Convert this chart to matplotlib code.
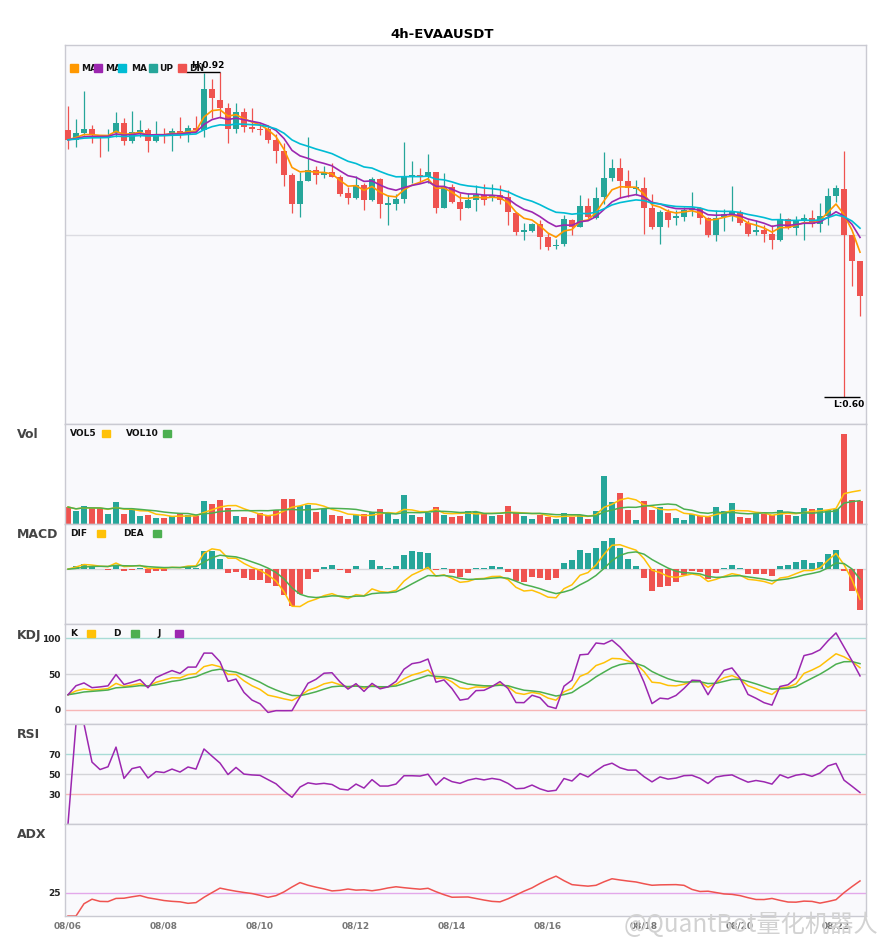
import numpy as np
import pandas as pd
import matplotlib as mpl
mpl.use('Agg')
from matplotlib import pyplot as plt
from matplotlib.patches import Rectangle

W, H = 885, 950

title = '4h-EVAAUSDT'
tick_pos = [0, 12, 24, 36, 48, 60, 72, 84, 96]
tick_labels = ['08/06', '08/08', '08/10', '08/12', '08/14', '08/16', '08/18', '08/20', '08/22']

# 4h candles
open_ = [.866, .856, .863, .867, .860, .859, .863, .873, .855, .864,
         .866, .855, .862, .862, .865, .862, .868, .866, .907, .896,
         .888, .867, .884, .869, .867, .867, .856, .845, .821, .792,
         .815, .826, .821, .824, .819, .803, .798, .811, .796, .817,
         .791, .792, .797, .819, .820, .819, .824, .788, .809, .794,
         .788, .796, .801, .799, .801, .799, .783, .764, .765, .772,
         .758, .749, .751, .776, .769, .790, .778, .799, .818, .828,
         .815, .807, .808, .788, .769, .784, .778, .779, .786, .788,
         .778, .761, .779, .781, .784, .773, .764, .766, .762, .755,
         .777, .768, .775, .778, .772, .780, .800, .807, .760, .734]
high = [.890, .877, .905, .871, .861, .867, .884, .878, .885, .876,
        .868, .875, .868, .868, .879, .871, .880, .923, .917, .924,
        .893, .893, .888, .888, .873, .871, .862, .853, .823, .824,
        .859, .830, .830, .833, .821, .809, .820, .813, .819, .818,
        .801, .802, .854, .835, .828, .842, .824, .823, .812, .803,
        .803, .811, .812, .812, .811, .806, .784, .773, .773, .776,
        .763, .756, .781, .777, .801, .798, .809, .844, .837, .838,
        .826, .816, .819, .802, .786, .787, .786, .789, .804, .789,
        .779, .786, .787, .810, .786, .776, .776, .771, .771, .783,
        .778, .780, .782, .786, .793, .808, .811, .845, .760, .734]
low = [.847, .849, .861, .853, .839, .845, .859, .851, .853, .859,
       .844, .854, .853, .845, .858, .854, .864, .859, .878, .878,
       .853, .863, .864, .864, .861, .853, .833, .810, .783, .779,
       .815, .812, .818, .819, .800, .792, .797, .786, .795, .778,
       .771, .786, .793, .813, .813, .813, .783, .788, .793, .776,
       .788, .785, .791, .795, .792, .771, .761, .755, .764, .746,
       .745, .746, .749, .761, .769, .778, .777, .792, .815, .798,
       .799, .801, .762, .767, .751, .769, .771, .775, .780, .772,
       .758, .754, .765, .775, .771, .759, .761, .753, .746, .754,
       .767, .761, .755, .769, .764, .771, .794, .598, .709, .679]
close = [.856, .863, .867, .861, .859, .860, .873, .855, .864, .866,
         .855, .862, .861, .865, .862, .868, .866, .907, .898, .888,
         .867, .884, .869, .867, .866, .856, .845, .821, .792, .815,
         .826, .821, .823, .819, .802, .798, .811, .796, .817, .792,
         .792, .797, .820, .820, .819, .824, .788, .809, .794, .787,
         .796, .801, .796, .800, .796, .784, .764, .765, .772, .758,
         .748, .750, .777, .769, .790, .779, .798, .818, .828, .815,
         .808, .808, .788, .769, .784, .776, .779, .786, .787, .778,
         .761, .778, .782, .784, .773, .762, .766, .762, .755, .777,
         .768, .775, .778, .772, .780, .800, .808, .760, .734, .699]
volume = [17.0, 13.3, 18.3, 15.7, 15.7, 10.3, 22.3, 10.3, 15.0, 8.3,
          9.3, 6.3, 6.3, 7.7, 10.0, 9.3, 7.7, 23.3, 20.3, 24.3,
          16.0, 8.3, 7.3, 6.3, 11.0, 8.3, 14.3, 25.3, 25.3, 17.7,
          19.3, 11.7, 15.0, 9.3, 8.3, 5.3, 8.7, 10.3, 11.7, 15.3,
          11.0, 5.3, 29.3, 9.3, 6.7, 11.0, 17.3, 9.3, 7.3, 8.3,
          13.3, 12.3, 11.0, 8.3, 9.3, 18.3, 11.0, 8.3, 5.3, 9.3,
          7.3, 5.3, 11.0, 7.3, 9.3, 5.3, 13.3, 48.3, 22.3, 31.3,
          14.3, 4.3, 23.3, 14.3, 17.3, 11.3, 6.3, 4.3, 10.3, 8.3,
          7.3, 17.3, 13.3, 21.3, 7.3, 6.3, 10.3, 10.3, 9.3, 14.3,
          9.3, 8.3, 16.3, 15.3, 16.3, 14.3, 15.3, 90.3, 24.3, 23.3]

UP = '#26a69a'
DN = '#ef5350'
C_MA5, C_MA10, C_MA20 = '#ff9800', '#9c27b0', '#00bcd4'
YEL, GRN, PUR = '#ffc107', '#4caf50', '#9c27b0'
BG = '#f9f9fc'
EDGE = '#cacad2'

o = np.array(open_); h = np.array(high); l = np.array(low); c = np.array(close)
v = np.array(volume)
x = np.arange(len(c))
cols = np.where(c >= o, UP, DN)

cs = pd.Series(c)
ma5 = cs.ewm(span=5, adjust=False).mean()
ma10 = cs.ewm(span=10, adjust=False).mean()
ma20 = cs.ewm(span=20, adjust=False).mean()

vs = pd.Series(v)
vol5 = vs.rolling(5, min_periods=1).mean()
vol10 = vs.rolling(10, min_periods=1).mean()

# macd (6, 13, 5)
dif = cs.ewm(span=6, adjust=False).mean() - cs.ewm(span=13, adjust=False).mean()
dea = dif.ewm(span=5, adjust=False).mean()
hist = 2 * (dif - dea)

# kdj
ln = pd.Series(l).rolling(9, min_periods=1).min()
hn = pd.Series(h).rolling(9, min_periods=1).max()
rsv = (cs - ln) / (hn - ln) * 100
k = rsv.ewm(com=2, adjust=False).mean()
d = k.ewm(com=2, adjust=False).mean()
j = 3 * k - 2 * d

# rsi
diff = cs.diff()
g = diff.clip(lower=0).ewm(com=13).mean()
ls = (-diff.clip(upper=0)).ewm(com=13).mean()
rsi = (100 * g / (g + ls)).fillna(0)

# adx
hs, lw_ = pd.Series(h), pd.Series(l)
pc = cs.shift(1)
tr = pd.concat([hs - lw_, (hs - pc).abs(), (lw_ - pc).abs()], axis=1).max(axis=1)
upm = hs.diff()
dnm = -lw_.diff()
pdm = pd.Series(np.where((upm > dnm) & (upm > 0), upm, 0.0))
mdm = pd.Series(np.where((dnm > upm) & (dnm > 0), dnm, 0.0))
atr = tr.ewm(span=14, adjust=False).mean()
pdi = 100 * pdm.ewm(span=14, adjust=False).mean() / atr
mdi = 100 * mdm.ewm(span=14, adjust=False).mean() / atr
dx = (100 * (pdi - mdi).abs() / (pdi + mdi)).fillna(0)
adx = dx.ewm(span=14, adjust=False).mean()

fig = plt.figure(figsize=(W / 100, H / 100), dpi=100)
fig.patch.set_facecolor('white')


def add_panel(top, bottom):
    ax = fig.add_axes([65 / W, 1 - bottom / H, 801 / W, (bottom - top) / H])
    ax.set_facecolor(BG)
    for s in ax.spines.values():
        s.set_color(EDGE)
        s.set_linewidth(1)
    ax.set_xlim(-0.375, 99.75)
    ax.set_xticks([])
    ax.set_yticks([])
    return ax


ax_p = add_panel(45, 424)
ax_v = add_panel(424, 524)
ax_m = add_panel(524, 624)
ax_k = add_panel(624, 724)
ax_r = add_panel(724, 824)
ax_a = add_panel(824, 916)

# price
ax_p.vlines(x, l, h, colors=cols, lw=0.9, zorder=2)
ax_p.bar(x, np.maximum(np.abs(c - o), 0.0012), bottom=np.minimum(o, c), width=0.75, color=cols, zorder=3)
ax_p.plot(x, ma5, color=C_MA5, lw=1.2, zorder=4)
ax_p.plot(x, ma10, color=C_MA10, lw=1.2, zorder=4)
ax_p.plot(x, ma20, color=C_MA20, lw=1.2, zorder=4)
rng = h.max() - l.min()
ax_p.set_ylim(l.min() - 0.083 * rng, h.max() + 0.083 * rng)
ax_p.axhline(sum(ax_p.get_ylim()) / 2, color='#dcdce2', lw=1, zorder=1)

ih = int(np.argmax(h))
il = int(np.argmin(l))
ax_p.hlines(h[ih], ih - 4.25, ih, color='black', lw=1, zorder=5)
ax_p.text(ih - 1.5, h[ih] + 0.002, 'H:%.2f' % h[ih], ha='center', va='bottom',
          fontsize=6.5, fontweight='bold', zorder=6)
ax_p.hlines(l[il], il - 2.5, il + 2, color='black', lw=1, zorder=5)
ax_p.text(il + 0.6, l[il] - 0.003, 'L:%.2f' % l[il], ha='center', va='top',
          fontsize=6.5, fontweight='bold', zorder=6)

# volume
ax_v.bar(x, v, width=0.75, color=cols)
ax_v.plot(x, vol5, color=YEL, lw=1.1)
ax_v.plot(x, vol10, color=GRN, lw=1.1)
ax_v.set_ylim(0, v.max() * 1.107)

# macd
ax_m.bar(x, hist, width=0.75, color=np.where(hist >= 0, UP, DN))
ax_m.plot(x, dif, color=YEL, lw=1.1)
ax_m.plot(x, dea, color=GRN, lw=1.1)
lo = min(hist.min(), dif.min(), dea.min())
hi = max(hist.max(), dif.max(), dea.max())
ax_m.set_ylim(lo - 0.2 * (hi - lo), hi + 0.2 * (hi - lo))
ax_m.axhline(0, color='#d8d8dc', lw=1, zorder=0)

# kdj
ax_k.axhline(100, color='#a8dcd6', lw=1, zorder=0)
ax_k.axhline(50, color='#d4d4d8', lw=1, zorder=0)
ax_k.axhline(0, color='#f7b6b6', lw=1, zorder=0)
ax_k.plot(x, k, color=YEL, lw=1.1)
ax_k.plot(x, d, color=GRN, lw=1.1)
ax_k.plot(x, j, color=PUR, lw=1.1)
ax_k.set_ylim(-20, 120)
ax_k.set_yticks([0, 50, 100])

# rsi
ax_r.axhline(70, color='#a8dcd6', lw=1, zorder=0)
ax_r.axhline(50, color='#d4d4d8', lw=1, zorder=0)
ax_r.axhline(30, color='#f7b6b6', lw=1, zorder=0)
ax_r.plot(x, rsi, color=PUR, lw=1.1)
ax_r.set_ylim(0, 100)
ax_r.set_yticks([30, 50, 70])

# adx
ax_a.axhline(25, color='#e3a8ea', lw=1, zorder=0)
ax_a.plot(x, adx, color=DN, lw=1.1)
ax_a.set_ylim(0, 100)
ax_a.set_yticks([25])

for ax in (ax_k, ax_r, ax_a):
    ax.tick_params(axis='y', length=0, pad=3, labelsize=6.5, labelcolor='#222222')
    for t in ax.get_yticklabels():
        t.set_fontweight('bold')

ax_a.set_xticks(tick_pos)
ax_a.set_xticklabels(tick_labels)
ax_a.tick_params(axis='x', length=0, pad=4, labelsize=6.5, labelcolor='#777777')
for t in ax_a.get_xticklabels():
    t.set_fontweight('bold')

fig.text(0.5, 1 - 34 / H, title, ha='center', va='center', fontsize=9.5, fontweight='bold')

for name, yy in [('Vol', 435), ('MACD', 535), ('KDJ', 635), ('RSI', 735), ('ADX', 835)]:
    fig.text(17 / W, 1 - yy / H, name, ha='left', va='center', fontsize=9,
             fontweight='bold', color='#444444')


def legend_item(x_sq, x_txt, y, color, label):
    fig.patches.append(Rectangle((x_sq / W, 1 - (y + 3.5) / H), 7.5 / W, 7.5 / H,
                                 transform=fig.transFigure, color=color, zorder=5))
    fig.text(x_txt / W, 1 - y / H, label, ha='left', va='center', fontsize=6.5,
             fontweight='bold', color='#111111', zorder=4)


legend_item(70, 81, 68.5, C_MA5, 'MA')
legend_item(94, 105, 68.5, C_MA10, 'MA')
legend_item(118, 131, 68.5, C_MA20, 'MA')
legend_item(149, 159, 68.5, UP, 'UP')
legend_item(178, 189, 68.5, DN, 'DN')

legend_item(102, 70, 433.5, YEL, 'VOL5')
legend_item(163, 126, 433.5, GRN, 'VOL10')
legend_item(97, 70, 533.5, YEL, 'DIF')
legend_item(153, 123, 533.5, GRN, 'DEA')
legend_item(87, 70, 633.5, YEL, 'K')
legend_item(131, 113, 633.5, GRN, 'D')
legend_item(175, 157, 633.5, PUR, 'J')

fig.text(878 / W, 1 - 925 / H, '@QuantBot量化机器人', ha='right', va='center',
         fontsize=17.5, color='#d2d2d2', family=['Noto Sans CJK SC', 'DejaVu Sans'])

fig.savefig('out.png', dpi=100, facecolor='white')
